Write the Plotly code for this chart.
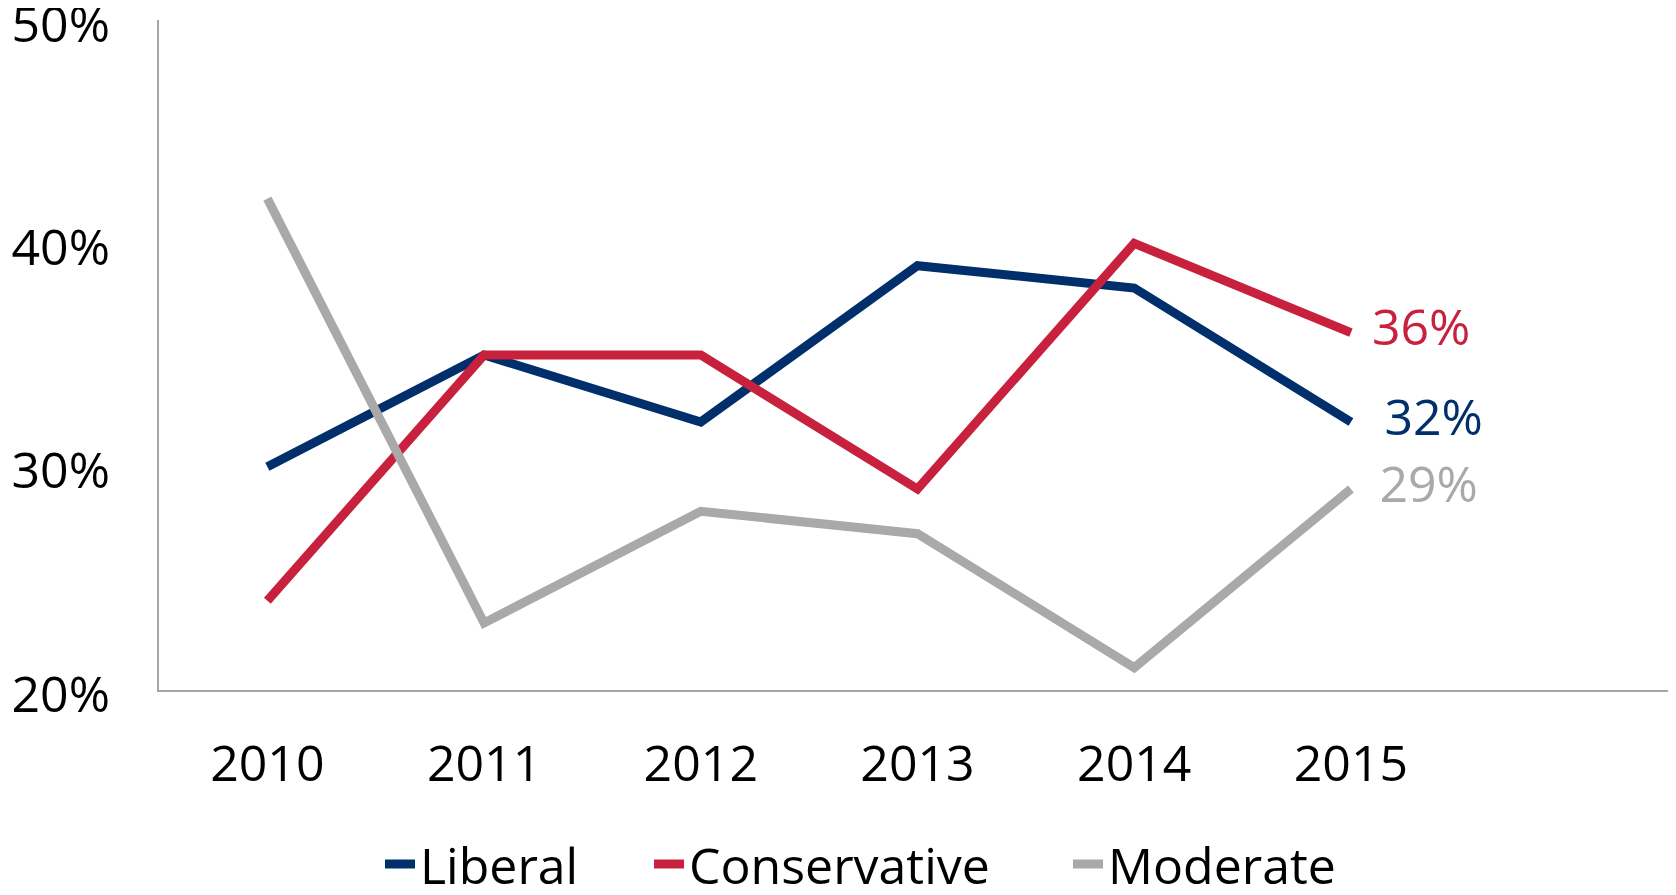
import plotly.graph_objects as go

PCT = chr(37)

years = ["2010", "2011", "2012", "2013", "2014", "2015"]
liberal = [30, 35, 32, 39, 38, 32]
conservative = [24, 35, 35, 29, 40, 36]
moderate = [42, 23, 28, 27, 21, 29]
y_ticks = [20, 30, 40, 50]
y_tick_labels = [f"{v}{PCT}" for v in y_ticks]

series = [
    ("Liberal", liberal, "#002F6C"),
    ("Conservative", conservative, "#C8213E"),
    ("Moderate", moderate, "#A9A9A9"),
]
# gap (px) between last point and its end label; legend left position (container px)
label_gap = {"Liberal": 52, "Conservative": 32, "Moderate": 44}
legend_left = {"Liberal": 372, "Conservative": 641, "Moderate": 1060}

W, H = 1668, 887  # page body adds an 8px margin
FONT = "Open Sans"
fig = go.Figure()
legend_layouts = {}
for i, (name, vals, color) in enumerate(series):
    lg = "legend" if i == 0 else f"legend{i + 1}"
    fig.add_trace(go.Scatter(
        x=years, y=vals, name=name, mode="lines",
        line=dict(color=color, width=9),
        legend=lg,
    ))
    legend_layouts[lg] = dict(
        orientation="h", x=legend_left[name] / W, xanchor="left",
        y=1 - 856 / H, yanchor="middle",
        xref="container", yref="container",
        font=dict(family=FONT, size=50, color="black"),
        bgcolor="rgba(0,0,0,0)", borderwidth=0,
    )

# end-of-line value labels
for name, vals, color in series:
    fig.add_trace(go.Scatter(
        x=[years[-1]], y=[vals[-1]], mode="markers+text",
        text=[f"{vals[-1]}{PCT}"], textposition="middle right",
        marker=dict(size=label_gap[name], opacity=0),
        textfont=dict(family=FONT, size=50, color=color),
        showlegend=False, hoverinfo="skip",
    ))

fig.update_layout(
    width=W, height=H,
    margin=dict(l=151, r=0, t=12, b=205, autoexpand=False),
    paper_bgcolor="white", plot_bgcolor="white",
    font=dict(family=FONT, size=50, color="black"),
    showlegend=True,
    **legend_layouts,
    xaxis=dict(
        type="category", range=[-0.5, 6.5], automargin=False,
        showgrid=False, zeroline=False,
        showline=True, linecolor="#A6A6A6", linewidth=2,
        ticks="", ticklabelstandoff=29,
        tickfont=dict(family=FONT, size=50, color="black"),
    ),
    yaxis=dict(
        range=[20, 50], tickvals=y_ticks, ticktext=y_tick_labels,
        automargin=False,
        showgrid=False, zeroline=False,
        showline=True, linecolor="#A6A6A6", linewidth=2,
        ticks="", ticklabelstandoff=37, ticklabelshift=4,
        ticklabeloverflow="allow",
        tickfont=dict(family=FONT, size=50, color="black"),
    ),
)

fig.write_html("out.html")
